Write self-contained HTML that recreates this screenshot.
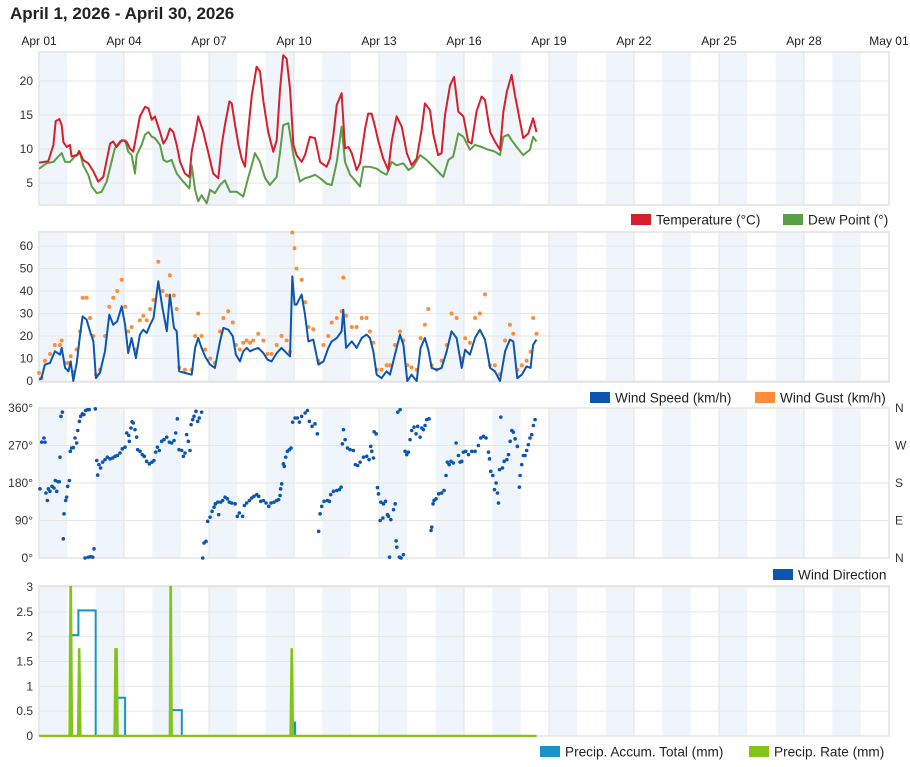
<!DOCTYPE html>
<html><head><meta charset="utf-8">
<style>
html,body{margin:0;padding:0;background:#fff;}
body{width:910px;height:762px;overflow:hidden;font-family:"Liberation Sans",sans-serif;}
svg text{font-family:"Liberation Sans",sans-serif;}
</style></head>
<body>
<svg id="chart" width="910" height="762" viewBox="0 0 910 762" xmlns="http://www.w3.org/2000/svg">
<text x="10" y="19" font-size="17" font-weight="bold" fill="#222">April 1, 2026 - April 30, 2026</text>
</svg>
<script>
// ---- data ----
const xTickLabels = ["Apr 01","Apr 04","Apr 07","Apr 10","Apr 13","Apr 16","Apr 19","Apr 22","Apr 25","Apr 28","May 01"];
const tempTicks = [5,10,15,20];
const windTicks = [0,10,20,30,40,50,60];
const dirTicks = [0,90,180,270,360];
const dirTickLabels = ["0°","90°","180°","270°","360°"];
const dirCompass = ["N","E","S","W","N"];
const precipTicks = [0,0.5,1,1.5,2,2.5,3];
const precipTickLabels = ["0","0.5","1","1.5","2","2.5","3"];

const tempDays = [0,.33,.51,.59,.72,.80,.86,.98,1.09,1.15,1.33,1.42,1.56,1.74,1.92,2.09,2.27,2.51,2.62,2.74,2.92,3.09,3.21,3.33,3.45,3.56,3.74,3.86,3.98,4.09,4.27,4.39,4.51,4.62,4.74,4.86,4.98,5.15,5.31,5.39,5.51,5.62,5.80,5.98,6.15,6.33,6.45,6.56,6.72,6.80,6.92,7.04,7.15,7.27,7.39,7.51,7.68,7.80,7.92,8.09,8.27,8.39,8.51,8.62,8.74,8.86,8.98,9.09,9.27,9.39,9.56,9.74,9.92,10.15,10.27,10.39,10.51,10.68,10.80,10.92,11.04,11.21,11.33,11.51,11.62,11.74,11.86,11.98,12.15,12.33,12.45,12.62,12.80,12.98,13.15,13.33,13.51,13.62,13.80,13.92,14.09,14.21,14.33,14.51,14.65,14.80,14.98,15.15,15.27,15.44,15.62,15.74,15.92,16.09,16.27,16.39,16.51,16.68,16.80,16.98,17.09,17.27,17.44,17.56];
const tempVals = [8.0,8.2,10.6,14.1,14.4,13.5,11,10.3,10.6,8.9,9.1,9.7,8.4,7.9,6.7,5.2,5.9,10.8,11.1,10.3,11.3,11.1,10.1,9.6,12.3,14.8,16.2,16,14.3,14.8,12.5,10.8,11.6,13.0,12.5,10.6,8.1,6.4,5.9,9.6,12.1,14.8,12.5,9.4,6.4,5.7,10.6,13.5,17,16.7,13.5,10.6,8.6,7.4,13,17.9,22.1,21.4,17,12.5,9.6,11.3,18.9,23.8,23.3,18.9,10.6,9.1,8.1,9.1,11.8,11.6,8.1,7.4,8.6,12.1,16.5,18.2,10.1,10.3,9.4,6.9,7.9,13,15.2,15.2,13.3,11.1,8.6,6.9,11.1,14.8,13.3,9.4,7.6,8.6,13,16.7,15.7,12.1,9.1,9.4,15,19.4,20.6,15.5,14.8,11.1,10.8,15.5,17.7,17.2,12.5,11.1,9.9,15.5,18.4,20.9,17.9,14,11.6,12.3,14.5,12.5];

const dewDays = [0,.27,.51,.68,.80,.92,1.09,1.27,1.45,1.56,1.74,1.86,2.04,2.21,2.39,2.56,2.68,2.86,3.04,3.15,3.27,3.39,3.45,3.62,3.74,3.86,3.98,4.09,4.27,4.39,4.51,4.68,4.86,5.09,5.31,5.39,5.51,5.62,5.74,5.92,6.04,6.21,6.39,6.56,6.74,6.98,7.21,7.39,7.51,7.62,7.80,7.98,8.15,8.39,8.51,8.62,8.80,8.98,9.21,9.39,9.56,9.74,9.92,10.15,10.33,10.51,10.68,10.80,10.98,11.15,11.33,11.45,11.68,11.92,12.09,12.27,12.45,12.62,12.86,13.04,13.21,13.45,13.68,13.92,14.15,14.27,14.45,14.62,14.80,14.98,15.21,15.39,15.62,15.86,16.09,16.27,16.39,16.56,16.68,16.86,17.09,17.33,17.44,17.56];
const dewVals = [7.1,7.9,8.1,8.9,9.4,8.1,8.1,8.9,9.4,7.6,6.2,4.5,3.5,3.7,5.2,8.1,10.1,11.1,11.3,9.6,9.1,6.4,9.1,10.6,12.1,12.5,11.8,11.6,10.6,8.4,8.1,8.4,6.4,5.2,4.2,7.6,4.0,2.3,3.2,2.0,4.0,3.5,4.7,5.4,3.7,3.7,3.0,5.9,7.6,9.4,8.1,5.7,4.7,5.9,9.6,13.5,13.8,9.1,5.2,5.7,5.9,6.2,5.7,4.9,4.7,8.1,13.3,8.1,6.2,5.4,4.5,7.4,7.4,7.1,6.6,6.2,8.1,7.6,7.9,6.9,7.4,9.1,8.4,7.4,6.4,5.9,8.4,8.9,12.3,11.8,9.9,10.6,10.3,9.9,9.6,9.1,11.8,12.1,11.3,10.3,9.1,9.9,11.8,11.1];

const windDays = [0,.09,.21,.39,.56,.74,.80,.92,1.04,1.12,1.21,1.33,1.45,1.54,1.68,1.80,1.92,2.01,2.15,2.33,2.48,2.62,2.76,2.92,3.04,3.15,3.27,3.42,3.56,3.68,3.80,3.92,4.04,4.21,4.36,4.51,4.62,4.76,4.86,4.95,5.15,5.39,5.51,5.62,5.74,5.86,6.04,6.21,6.39,6.51,6.68,6.84,6.95,7.09,7.21,7.33,7.45,7.56,7.74,7.92,8.06,8.21,8.39,8.56,8.74,8.86,8.94,9.02,9.09,9.27,9.39,9.51,9.68,9.86,10.04,10.21,10.33,10.51,10.68,10.74,10.84,11.04,11.21,11.39,11.56,11.68,11.80,11.92,12.09,12.27,12.39,12.56,12.74,12.86,13.0,13.15,13.33,13.47,13.62,13.74,13.86,14.04,14.21,14.39,14.56,14.74,14.92,15.04,15.21,15.39,15.56,15.74,15.92,16.09,16.27,16.45,16.62,16.74,16.88,17.04,17.21,17.35,17.44,17.56];
const windVals = [0.6,1.3,7.3,8,13.2,11.7,14.7,5.8,4.3,8.7,0,8,20.6,28.7,27.3,22.1,17.6,1.3,3.6,13.2,29.5,25,26.5,33.2,25,12.4,19.1,10.2,20.6,22.8,21.3,25,28,44.3,32.4,22.1,38.4,23.6,22.1,4.3,3.6,2.8,14.7,19.1,14.7,11,7.3,5.8,17.6,23.6,22.8,19.9,11.7,8.7,13.2,14.7,13.2,13.9,14.7,12.4,9.5,8.7,12.4,14.7,12.4,11,46.5,34,33.9,38.4,29.5,17.6,18.4,7.3,8.7,14.7,17.6,19.1,22.1,31.7,14.7,17.6,14.7,19.1,20.6,19.1,13.2,2.8,1.3,4.3,2.8,11.7,20.6,16.1,0,2.8,0,14.7,19.1,13.9,5.8,5.0,5.8,13.2,22.1,19.1,5.8,13.9,11.7,19.1,22.8,18.4,5.8,4.3,0,13.2,18.4,17.6,1.3,2.8,6.5,5.8,16.1,18.4];
const gustVals = [3.6,1.3,9,12,16,16,18,8,8,11,4,14,22,37,37,28,20,3,5,20,33,37,40,45,33,22,24,14,27,29,27,32,36,53,40,38,47,38,32,6,5,5,20,30,20,14,10,8,22,28,31,26,16,14,17,18,17,18,21,18,12,12,16,20,18,13,66,59,50,45,35,24,23,9,16,20,26,28,31,46,29,24,24,28,28,22,17,5,5,7,7,16,22,18,7,6,5,19,25,32,7,5,9,16,30,28,10,19,17,28,30,38.5,7,7,3,18,25,21,5,7,9,13,28,21];

const dirHours = [0.8,2.3,4.2,5.1,5.9,7.1,7.9,9.3,11.0,12.7,13.8,15.0,16.1,17.2,17.8,18.6,19.8,20.6,21.2,22.6,23.4,24.3,25.7,26.5,27.7,29.1,30.5,31.9,32.8,34.2,35.3,36.7,38.1,39.0,39.5,41.2,41.8,42.6,43.8,45.5,46.6,47.7,48.9,49.7,50.8,52.2,53.9,55.9,57.9,60.2,62.4,64.4,66.4,68.6,70.6,72.9,74.3,76.0,76.5,77.9,78.8,79.9,81.3,82.7,83.6,85.6,87.5,89.2,91.2,93.5,95.7,97.4,98.8,100.3,101.9,103.9,105.9,108.2,110.4,112.4,114.4,115.8,117.2,118.6,120.9,122.3,123.7,125.1,126.5,127.9,128.8,130.2,131.3,133.0,134.4,135.8,137.8,138.7,139.8,141.5,142.9,144.9,146.6,148.3,149.4,151.4,152.2,153.9,155.6,157.6,159.6,161.2,163.2,166.1,168.0,169.7,172.5,174.0,175.9,178.2,180.2,182.1,184.4,186.1,187.8,190.1,192.3,194.6,196.5,199.1,201.3,203.0,204.2,204.7,205.6,207.0,207.8,209.0,210.4,212.1,213.5,214.9,216.9,218.9,220.6,
222.5,225.4,227.3,229.0,231.3,233.8,235.8,236.9,238.1,239.5,241.5,244.3,246.0,247.1,249.4,252.2,254.5,255.9,257.0,257.9,259.3,261.3,263.5,266.3,268.0,270.0,272.0,274.8,277.6,279.6,281.0,281.9,283.3,283.9,285.6,286.7,287.6,289.0,289.6,291.3,291.8,293.5,295.2,296.0,296.9,298.0,300.3,301.7,302.5,303.1,303.9,305.3,305.9,306.7,308.7,310.1,311.5,312.9,314.3,315.7,317.7,319.4,320.8,322.8,324.2,325.6,327.0,328.4,330.4,332.1,332.7,333.8,334.6,336.3,338.6,341.1,343.1,344.8,345.9,347.4,349.0,351.0,353.3,355.3,356.7,358.1,359.5,361.5,363.8,366.6,369.4,372.2,374.2,376.5,378.7,380.7,381.6,382.7,384.4,385.8,387.2,388.4,389.2,390.1,391.2,392.6,394.0,396.3,397.7,399.1,400.5,401.8,403.3,405.2,406.9,407.5,408.9,410.3,411.7,413.1,414.5,415.9,417.4,418.8,420.2,421.0];
const dirVals = [166,278,288,278,156,138,166,160,172,168,186,160,183,183,242,340,350,46,106,138,146,172,186,256,264,265,288,276,306,328,340,346,344,0,354,356,2,356,3,2,22,358,234,199,224,216,230,236,242,238,240,244,246,252,262,266,300,294,280,312,327,324,308,290,260,256,248,244,232,226,230,234,254,266,258,280,284,290,278,276,282,300,334,260,258,244,252,296,280,258,320,332,340,352,328,336,350,0,36,40,88,98,112,122,130,134,104,134,138,146,142,134,132,130,100,108,100,126,132,138,144,148,152,148,136,138,132,124,132,134,138,140,150,166,178,226,220,242,256,260,264,326,336,336,326,
340,348,354,328,316,322,298,64,106,124,136,138,136,152,160,162,164,170,274,308,284,264,260,258,224,222,230,242,244,236,268,256,240,303,298,169,154,90,134,96,130,136,104,100,2,92,116,130,41,26,350,2,356,0,8,256,248,254,284,306,314,298,316,290,312,308,318,332,334,66,74,130,138,142,154,156,162,198,230,224,232,228,276,246,230,232,254,256,248,256,256,270,288,292,288,254,238,208,198,164,180,156,132,212,338,216,232,236,248,280,306,302,286,268,170,198,224,246,246,258,272,288,296,318,332];

const accumDays = [0,1.09,1.39,2.0,2.76,3.04,4.68,5.04,8.98,9.04,17.56];
const accumVals = [0,2.03,2.53,0,0.77,0,0.52,0,0.27,0,0];
const rateDays = [0,1.08,1.12,1.16,1.38,1.42,1.46,2.67,2.70,2.72,2.74,2.77,4.62,4.65,4.68,8.88,8.92,8.96,17.56];
const rateVals = [0,0,3.4,0,0,1.77,0,0,1.77,1.4,1.77,0,0,3.4,0,0,1.77,0,0];

// ---- axes ----
const X0 = 39, DAYW = 28.333;
const xDay = d => X0 + d*DAYW;
const xHour = h => xDay(h/24);
const yTemp = v => 217 - v*6.8;
const yWind = v => 381 - v*2.25;
const yDir = v => 558 - v*150/360;
const yPrec = v => 736 - v*49.67;

const NS = "http://www.w3.org/2000/svg";
const svg = document.getElementById("chart");
function mk(tag, attrs, parent){
  const e = document.createElementNS(NS, tag);
  for (const k in attrs) e.setAttribute(k, attrs[k]);
  (parent||svg).appendChild(e);
  return e;
}
function pathFrom(xs, ys){
  const n = Math.min(xs.length, ys.length);
  let d = "";
  for (let i=0;i<n;i++) d += (i?"L":"M")+xs[i].toFixed(1)+","+ys[i].toFixed(1);
  return d;
}

// x-axis labels
xTickLabels.forEach((lab,i)=>{
  const t = mk("text",{x:xDay(i*3), y:45, "font-size":12, fill:"#222", "text-anchor":"middle"});
  t.textContent = lab;
  
  
});

const panels = [
  {name:"temperature-panel", top:52, bot:205},
  {name:"wind-speed-panel", top:232, bot:382},
  {name:"wind-direction-panel", top:408, bot:558},
  {name:"precipitation-panel", top:586, bot:736}
];
panels.forEach((p,pi)=>{
  const g = mk("g",{});
  
  
  p.g = g;
  for (let k=0;k<30;k+=2){
    const r = mk("rect",{x:xDay(k), y:p.top, width:DAYW, height:p.bot-p.top, fill:"#eff5fa"}, g);
    
    
  }
  for (let k=3;k<30;k+=3){
    const l = mk("line",{x1:xDay(k), x2:xDay(k), y1:p.top, y2:p.bot, stroke:"#e3e3e3", "stroke-width":1}, g);
    
    
  }
  const fr = mk("rect",{x:X0, y:p.top, width:850, height:p.bot-p.top, fill:"none", stroke:"#e3e3e3", "stroke-width":1.5}, g);
  
  
});

function yAxis(g, ticks, labels, yf, right){
  ticks.forEach((v,i)=>{
    const y = yf(v);
    const l = mk("line",{x1:X0, x2:889, y1:y, y2:y, stroke:"#e6e6e6", "stroke-width":1}, g);
    
    
    const t = mk("text",{x:33, y:y+4, "font-size":12, fill:"#333", "text-anchor":"end"}, g);
    t.textContent = labels ? labels[i] : String(v);
    
    
    if (right){
      const r = mk("text",{x:895, y:y+4, "font-size":12, fill:"#333"}, g);
      r.textContent = right[i];
      
      
    }
  });
}
yAxis(panels[0].g, tempTicks, null, yTemp);
yAxis(panels[1].g, windTicks, null, yWind);
yAxis(panels[2].g, dirTicks, dirTickLabels, yDir, dirCompass);
yAxis(panels[3].g, precipTicks, precipTickLabels, yPrec);

// clip paths
const defs = mk("defs",{});
panels.forEach((p,i)=>{
  const c = mk("clipPath",{id:"clip"+i}, defs);
  mk("rect",{x:X0, y:p.top, width:850, height:p.bot-p.top+1}, c);
});

// temperature
const dewLine = mk("path",{d:pathFrom(dewDays.map(xDay), dewVals.map(yTemp)), fill:"none", stroke:"#5b9e45", "stroke-width":2, "stroke-linejoin":"round", "clip-path":"url(#clip0)"}, panels[0].g);


const tempLine = mk("path",{d:pathFrom(tempDays.map(xDay), tempVals.map(yTemp)), fill:"none", stroke:"#d61f2c", "stroke-width":2, "stroke-linejoin":"round", "clip-path":"url(#clip0)"}, panels[0].g);



// wind
const nG = Math.min(windDays.length, gustVals.length);
for (let i=0;i<nG;i++){
  const c = mk("circle",{cx:xDay(windDays[i]), cy:yWind(gustVals[i]), r:2, fill:"#ff8c3a"}, panels[1].g);
  
  
}
const windLine = mk("path",{d:pathFrom(windDays.map(xDay), windVals.map(yWind)), fill:"none", stroke:"#0c56b0", "stroke-width":2, "stroke-linejoin":"round", "clip-path":"url(#clip1)"}, panels[1].g);



// direction
const nD = Math.min(dirHours.length, dirVals.length);
for (let i=0;i<nD;i++){
  const c = mk("circle",{cx:xHour(dirHours[i]), cy:yDir(dirVals[i]), r:1.8, fill:"#0c56b0"}, panels[2].g);
  
  
}

// precip accum (step)
let ad = "";
accumDays.forEach((d,i)=>{
  const x = xDay(d), y = yPrec(accumVals[i]);
  if (i===0) ad += "M"+x+","+y;
  else ad += "L"+x+","+yPrec(accumVals[i-1])+"L"+x+","+y;
});
const accLine = mk("path",{d:ad, fill:"none", stroke:"#1a93c8", "stroke-width":2, "clip-path":"url(#clip3)"}, panels[3].g);


const rateLine = mk("path",{d:pathFrom(rateDays.map(xDay), rateVals.map(yPrec)), fill:"none", stroke:"#84c31a", "stroke-width":2.5, "clip-path":"url(#clip3)"}, panels[3].g);



// legends
function legend(items, y){
  items.forEach(it=>{
    const r = mk("rect",{x:it[2], y:y-6, width:20, height:11, fill:it[1]});
    
    
    const t = mk("text",{x:it[2]+25, y:y+4.5, "font-size":13.6, fill:"#222"});
    t.textContent = it[0];
    
    
  });
}
legend([["Temperature (°C)","#d61f2c",631],["Dew Point (°)","#5b9e45",783]], 220);
legend([["Wind Speed (km/h)","#0c56b0",590],["Wind Gust (km/h)","#ff8c3a",755]], 398);
legend([["Wind Direction","#0c56b0",773]], 575);
legend([["Precip. Accum. Total (mm)","#1a93c8",540],["Precip. Rate (mm)","#84c31a",749]], 752);
</script>
</body></html>
